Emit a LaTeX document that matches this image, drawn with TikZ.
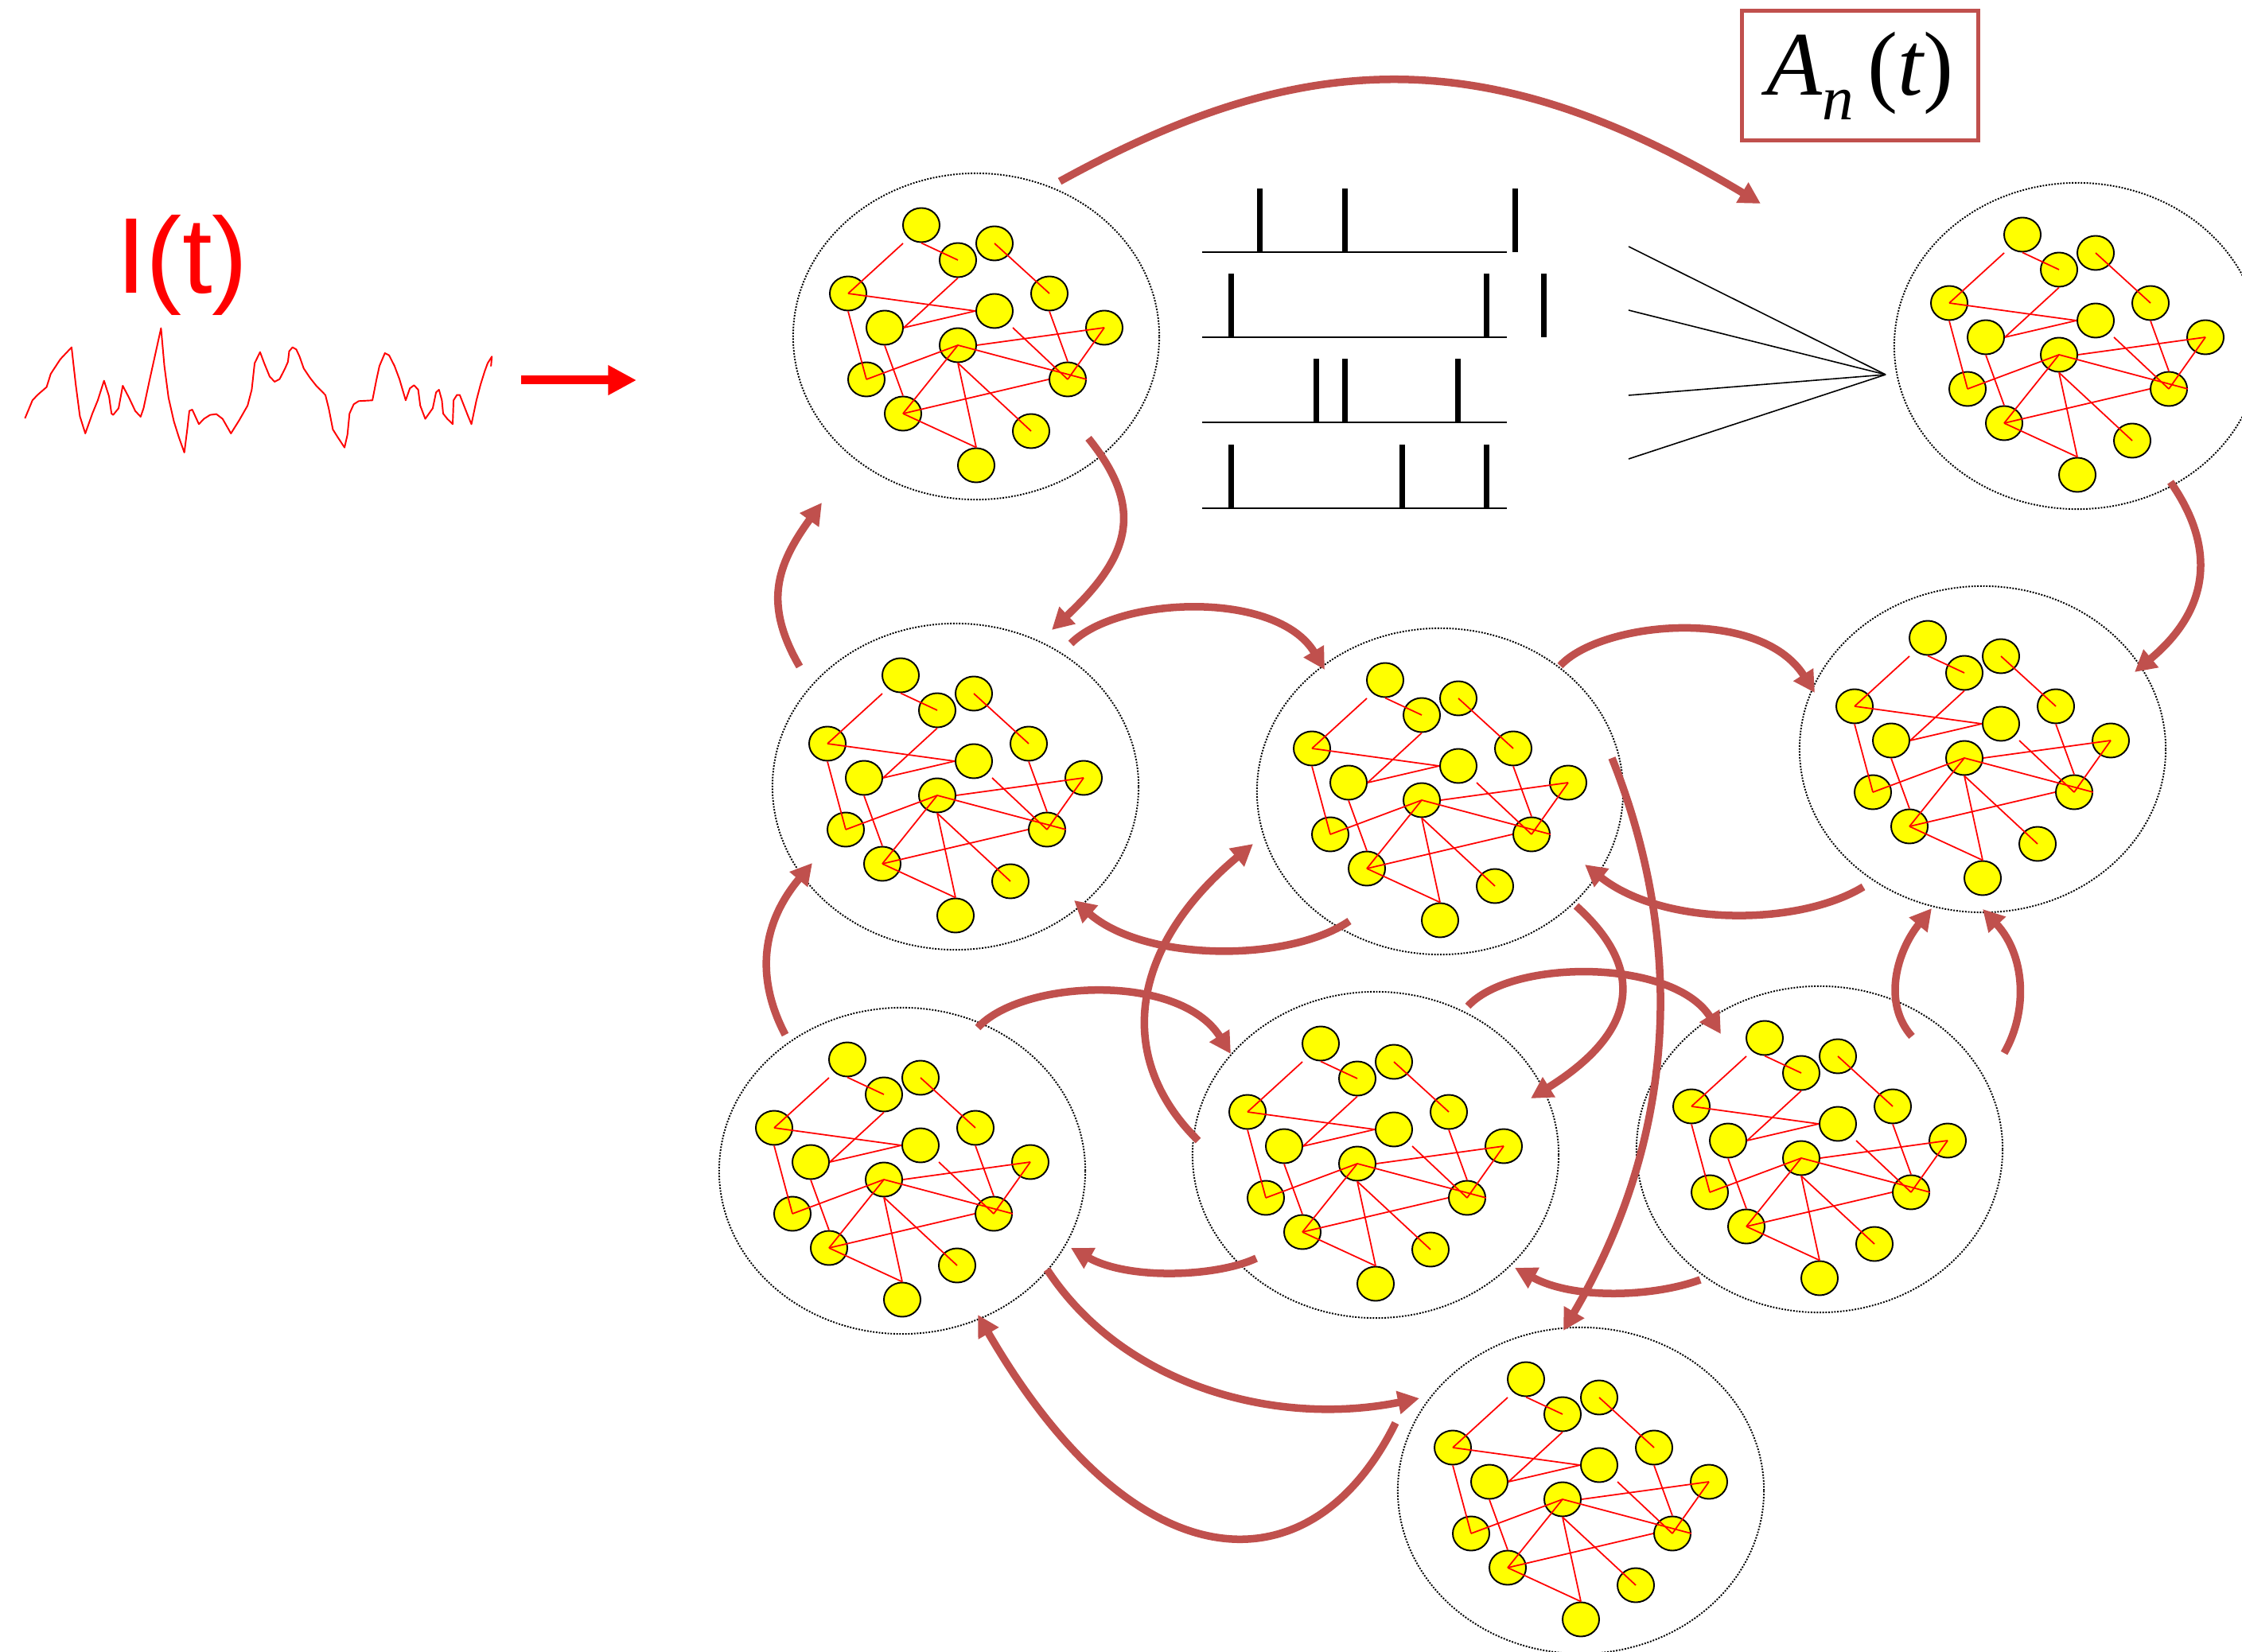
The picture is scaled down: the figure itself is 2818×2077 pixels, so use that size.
\documentclass[tikz,border=0pt]{standalone}
\usepackage{fontspec}
\newfontfamily\arialf{Liberation Sans}
\newfontfamily\timesf{Liberation Serif}
\usetikzlibrary{shapes.geometric,arrows.meta}
\definecolor{arrowred}{HTML}{C0504D}
\definecolor{nyellow}{HTML}{FFFF00}
\definecolor{sigred}{HTML}{FF0000}
\tikzset{
  clu/.style={ellipse, draw=black, line width=0.55pt, dash pattern=on 0.55pt off 0.5pt,
    minimum width=4.6cm, minimum height=4.1cm, inner sep=0pt},
  neuron/.style={ellipse, draw=black, fill=nyellow, line width=0.55pt,
    minimum width=0.46cm, minimum height=0.43cm, inner sep=0pt},
  syn/.style={draw=sigred, line width=0.5pt},
  conn/.style={draw=arrowred, line width=0.095cm, -{Triangle[length=0.27cm,width=0.28cm]}},
  spikebar/.style={draw=black, line width=0.07cm},
  trainline/.style={draw=black, line width=0.02cm},
  fanline/.style={draw=black, line width=0.016cm},
  net/.pic={
    \node[neuron] (-n1) at (-69,-140) {};
    \node[neuron] (-n2) at (-23,-96) {};
    \node[neuron] (-n3) at (23,-117) {};
    \node[neuron] (-n4) at (-161,-54) {};
    \node[neuron] (-n5) at (92,-54) {};
    \node[neuron] (-n6) at (23,-32) {};
    \node[neuron] (-n7) at (-115,-11) {};
    \node[neuron] (-n8) at (161,-11) {};
    \node[neuron] (-n9) at (-23,11) {};
    \node[neuron] (-n10) at (-138,54) {};
    \node[neuron] (-n11) at (115,54) {};
    \node[neuron] (-n12) at (-92,97) {};
    \node[neuron] (-n13) at (69,119) {};
    \node[neuron] (-n14) at (0,162) {};
    \draw[syn] ([shift={(-23,23)}]-n1.center) -- (-n4.center);
    \draw[syn] (-n1.south) -- (-n2.center);
    \draw[syn] (-n3.center) -- (-n5.center);
    \draw[syn] (-n4.center) -- (-n6.west);
    \draw[syn] (-n2.south) -- (-n7.east);
    \draw[syn] (-n7.east) -- (-n6.west);
    \draw[syn] (-n4.south) -- (-n10.center);
    \draw[syn] (-n10.center) -- (-n9.center);
    \draw[syn] (-n7.south) -- (-n12.north);
    \draw[syn] (-n9.east) -- (-n8.center);
    \draw[syn] (-n9.center) -- (-n11.east);
    \draw[syn] ([shift={(23,21)}]-n6.center) -- (-n11.center);
    \draw[syn] (-n5.south) -- (-n11.north);
    \draw[syn] (-n11.center) -- (-n8.center);
    \draw[syn] (-n9.center) -- (-n12.center);
    \draw[syn] (-n11.west) -- (-n12.center);
    \draw[syn] (-n9.south) -- (-n14.north);
    \draw[syn] (-n9.south) -- (-n13.center);
    \draw[syn] (-n12.center) -- (-n14.north);
  }
}
\begin{document}
\begin{tikzpicture}[x=0.01cm,y=-0.01cm]
\useasboundingbox (0,0) rectangle (2818,2077);
\fill[white] (0,0) rectangle (2818,2077);
\clip (0,0) rectangle (2818,2077);

% clusters
\foreach \nm/\cx/\cy in {A/1227/423, B/2611/435, C/1201/989, D/1810/995, E/2492/942,
  F/1134/1472, G/1729/1452, H/2287/1445, I/1987/1874} {
  \node[clu] (\nm) at (\cx,\cy) {};
  \pic (net\nm) at (\cx,\cy) {net};
}

% input current
\node[anchor=base, text=sigred, font=\arialf\fontsize{38.5pt}{44pt}\selectfont, inner sep=0pt] (It) at (229,369) {I(t)};
\begin{scope}[shift={(0,250)}, xscale=0.523, yscale=0.3333]
\draw[sigred, line width=0.55pt, line join=round]
 (60,828) -- (78,760) -- (90,740) -- (112,710) -- (122,660) -- (145,605) -- (172,560)
 -- (182,700) -- (192,820) -- (205,885) -- (222,810) -- (235,760) -- (250,686) -- (262,745)
 -- (268,810) -- (272,815) -- (285,790) -- (295,705) -- (310,750) -- (325,800) -- (338,822)
 -- (345,790) -- (360,680) -- (387,488) -- (395,630) -- (405,750) -- (418,840) -- (430,900)
 -- (443,957) -- (450,870) -- (455,800) -- (462,795) -- (478,850) -- (490,830) -- (505,815)
 -- (520,812) -- (535,830) -- (555,885) -- (575,835) -- (595,780) -- (605,720) -- (612,620)
 -- (625,578) -- (635,620) -- (648,670) -- (660,690) -- (672,680) -- (685,640) -- (692,615)
 -- (695,575) -- (703,560) -- (712,568) -- (720,595) -- (730,640) -- (745,675) -- (760,705)
 -- (782,740) -- (790,790) -- (800,870) -- (812,900) -- (828,938) -- (835,890) -- (840,810)
 -- (850,775) -- (862,763) -- (895,760) -- (905,680) -- (912,630) -- (925,582) -- (935,590)
 -- (948,630) -- (960,680) -- (975,760) -- (985,715) -- (995,703) -- (1005,720) -- (1010,780)
 -- (1022,830) -- (1040,790) -- (1048,730) -- (1055,720) -- (1062,760) -- (1065,810)
 -- (1075,830) -- (1088,850) -- (1090,760) -- (1098,740) -- (1105,740) -- (1115,780)
 -- (1125,820) -- (1133,850) -- (1145,760) -- (1155,700) -- (1165,650) -- (1172,620)
 -- (1182,595) -- (1180,632);
\end{scope}
\coordinate (sigS) at (655,478);
\coordinate (sigE) at (800,478);
\draw[sigred, line width=0.11cm, -{Triangle[length=0.356cm,width=0.353cm]}] (sigS) -- (sigE);

% spike trains
\foreach \by in {317,424,531,639} \draw[trainline] (1511,\by) -- (1894,\by);
\foreach \sx in {1583,1690,1904} \draw[spikebar] (\sx,317) -- (\sx,237);
\foreach \sx in {1547,1868,1940} \draw[spikebar] (\sx,424) -- (\sx,344);
\foreach \sx in {1654,1690,1832} \draw[spikebar] (\sx,531) -- (\sx,451);
\foreach \sx in {1547,1762,1868} \draw[spikebar] (\sx,639) -- (\sx,559);

% fan into population activity
\coordinate (fan) at (2370,471);
\coordinate (f1) at (2047,310);
\coordinate (f2) at (2047,390);
\coordinate (f3) at (2047,497);
\coordinate (f4) at (2047,577);
\foreach \f in {f1,f2,f3,f4} \draw[fanline] (\f) -- (fan);

% A_n(t) box
\node[draw=arrowred, line width=0.05cm, minimum width=2.96cm, minimum height=1.62cm, inner sep=0pt] (An) at (2338,95)
 {\timesf\fontsize{32.5pt}{38pt}\selectfont\itshape A\raisebox{-8.8pt}{\fontsize{22.5pt}{26pt}\selectfont n}\hspace{5pt}\upshape(\itshape t\upshape)};

% connections between populations
\draw[conn] ([shift={(105,-195)}]A.center) .. controls (1632,63) and (1863,46) .. ([shift={(-398,-179)}]B.center);
\draw[conn] ([shift={(141,128)}]A.center) .. controls (1440,640) and (1420,700) .. ([shift={(121,-197)}]C.center);
\draw[conn] ([shift={(-196,-151)}]C.center) .. controls (960,760) and (975,712) .. ([shift={(-194,209)}]A.center);
\draw[conn] ([shift={(145,-180)}]C.center) .. controls (1406,749) and (1605,742) .. ([shift={(-145,-153)}]D.center);
\draw[conn] ([shift={(151,-158)}]D.center) .. controls (2011,782) and (2211,761) .. ([shift={(-211,-71)}]E.center);
\draw[conn] ([shift={(117,171)}]B.center) .. controls (2780,680) and (2785,760) .. ([shift={(191,-97)}]E.center);
\draw[conn] ([shift={(-150,173)}]E.center) .. controls (2260,1165) and (2090,1165) .. ([shift={(182,92)}]D.center);
\draw[conn] ([shift={(-114,163)}]D.center) .. controls (1620,1210) and (1440,1210) .. ([shift={(149,143)}]C.center);
\draw[conn] ([shift={(-147,-171)}]F.center) .. controls (955,1240) and (950,1170) .. ([shift={(-180,96)}]C.center);
\draw[conn] ([shift={(95,-180)}]F.center) .. controls (1284,1232) and (1482,1222) .. ([shift={(-182,-127)}]G.center);
\draw[conn] ([shift={(-223,-18)}]G.center) .. controls (1400,1330) and (1420,1190) .. ([shift={(-235,66)}]D.center);
\draw[conn] ([shift={(171,144)}]D.center) .. controls (2060,1210) and (2070,1290) .. ([shift={(195,-71)}]G.center);
\draw[conn] ([shift={(116,-187)}]G.center) .. controls (1900,1205) and (2103,1205) .. ([shift={(-124,-145)}]H.center);
\draw[conn] ([shift={(216,-42)}]D.center) .. controls (2105,1150) and (2125,1400) .. ([shift={(-22,-201)}]I.center);
\draw[conn] ([shift={(116,-142)}]H.center) .. controls (2365,1260) and (2385,1195) .. ([shift={(-64,200)}]E.center);
\draw[conn] ([shift={(232,-121)}]H.center) .. controls (2550,1270) and (2545,1200) .. ([shift={(0,201)}]E.center);
\draw[conn] ([shift={(-150,130)}]G.center) .. controls (1530,1605) and (1420,1610) .. ([shift={(212,97)}]F.center);
\draw[conn] ([shift={(-150,164)}]H.center) .. controls (2080,1630) and (1980,1635) .. ([shift={(175,142)}]G.center);
\draw[conn] ([shift={(182,124)}]F.center) .. controls (1410,1740) and (1600,1795) .. ([shift={(-203,-116)}]I.center);
\draw[conn] ([shift={(-233,-85)}]I.center) .. controls (1650,2000) and (1430,2000) .. ([shift={(95,181)}]F.center);
\end{tikzpicture}
\end{document}
